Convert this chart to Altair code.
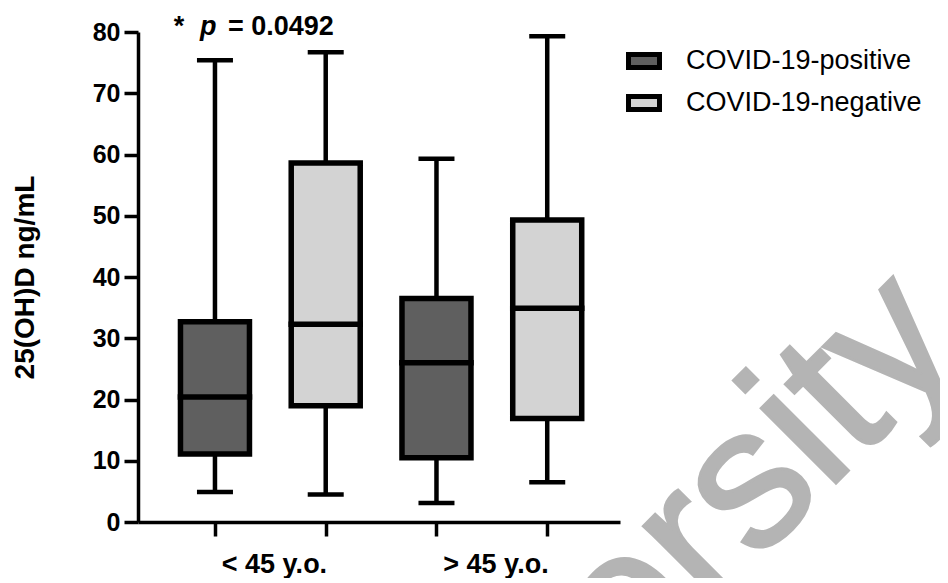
import altair as alt
import pandas as pd

# ---- data ----
groups = ["< 45 y.o.", "< 45 y.o.", "> 45 y.o.", "> 45 y.o."]
status = ["COVID-19-positive", "COVID-19-negative", "COVID-19-positive", "COVID-19-negative"]
whisker_low = [4.9, 4.5, 3.1, 6.5]
q1 = [11.1, 19.0, 10.5, 16.9]
median = [20.4, 32.3, 26.0, 34.9]
q3 = [32.7, 58.6, 36.5, 49.3]
whisker_high = [75.4, 76.7, 59.3, 79.3]

status_order = ["COVID-19-positive", "COVID-19-negative"]
fill_colors = ["#5f5f5f", "#d3d3d3"]
y_ticks = [0, 10, 20, 30, 40, 50, 60, 70, 80]
y_title = "25(OH)D ng/mL"
annotation = ["*", "p", "= 0.0492"]
watermark = ["ersity"]

FONT = "Liberation Sans"

df = pd.DataFrame({
    "group": groups,
    "status": status,
    "lo": whisker_low,
    "q1": q1,
    "med": median,
    "q3": q3,
    "hi": whisker_high,
})
df["box"] = df["group"] + " | " + df["status"]
box_order = list(df["box"])

group_names = list(dict.fromkeys(groups))
first_box = [box_order[groups.index(g)] for g in group_names]
df_labels = pd.DataFrame({"box": first_box, "label": group_names})

x_scale = alt.Scale(type="point", padding=0.676, align=0.514)
x_axis = alt.Axis(labels=False, title=None, tickSize=14, tickWidth=3.5,
                  domainWidth=3.5, domainColor="black", tickColor="black",
                  grid=False)


def X():
    return alt.X("box:N", sort=box_order, scale=x_scale, axis=x_axis)


y_scale = alt.Scale(domain=[0, 80], nice=False, zero=True)
y_axis = alt.Axis(values=y_ticks, title=y_title, grid=False,
                  tickSize=14, tickWidth=3.5, domainWidth=3.5,
                  domainColor="black", tickColor="black",
                  labelFont=FONT, labelFontWeight="bold", labelFontSize=25,
                  labelColor="black", labelPadding=4,
                  titleFont=FONT, titleFontWeight="bold", titleFontSize=28,
                  titleColor="black", titlePadding=53)


def Y(field):
    return alt.Y(f"{field}:Q", scale=y_scale, axis=y_axis, title=y_title)


base = alt.Chart(df)

wm = alt.Chart(pd.DataFrame({"t": watermark})).mark_text(
    angle=315, fontSize=200, font=FONT, color="#b4b4b4",
    stroke="#b4b4b4", strokeWidth=3,
    align="left", baseline="alphabetic"
).encode(x=alt.value(492), y=alt.value(657), text="t:N")

whisk = base.mark_rule(strokeWidth=4.5, color="black").encode(
    x=X(), y=Y("lo"), y2="hi:Q")

cap_lo = base.mark_tick(size=36, thickness=4.5, color="black", opacity=1).encode(
    x=X(), y=Y("lo"))
cap_hi = base.mark_tick(size=36, thickness=4.5, color="black", opacity=1).encode(
    x=X(), y=Y("hi"))

boxes = base.mark_bar(size=69, stroke="black", strokeWidth=5.5, opacity=1).encode(
    x=X(), y=Y("q1"), y2="q3:Q",
    color=alt.Color("status:N",
                    scale=alt.Scale(domain=status_order, range=fill_colors),
                    legend=alt.Legend(title=None, orient="none",
                                      legendX=488, legendY=11,
                                      symbolType="M-1,-0.42L1,-0.42L1,0.42L-1,0.42Z",
                                      symbolSize=961, symbolStrokeColor="black",
                                      symbolStrokeWidth=5, symbolOpacity=1,
                                      labelFont=FONT, labelFontSize=27,
                                      labelColor="black", labelOffset=24,
                                      labelLimit=0, rowPadding=7)))

med = base.mark_tick(size=74.5, thickness=5.5, color="black", opacity=1).encode(
    x=X(), y=Y("med"))

labels = alt.Chart(df_labels).mark_text(
    font=FONT, fontSize=27, fontWeight="bold", color="black",
    align="center", baseline="alphabetic", dx=59.5
).encode(x=X(), y=alt.value(541), text="label:N")

ann_df = pd.DataFrame({"box": [box_order[0]]})
ann_star = alt.Chart(ann_df).mark_text(
    text=annotation[0], font=FONT, fontSize=27, fontWeight="bold",
    color="black", align="center", baseline="alphabetic", dx=-36
).encode(x=X(), y=alt.value(3))
ann_p = alt.Chart(ann_df).mark_text(
    text=annotation[1], font=FONT, fontSize=27, fontWeight="bold",
    fontStyle="italic", color="black", align="left", baseline="alphabetic",
    dx=-15
).encode(x=X(), y=alt.value(3))
ann_v = alt.Chart(ann_df).mark_text(
    text=annotation[2], font=FONT, fontSize=27, fontWeight="bold",
    color="black", align="left", baseline="alphabetic", dx=13
).encode(x=X(), y=alt.value(3))

chart = alt.layer(
    wm, whisk, cap_lo, cap_hi, boxes, med, labels, ann_star, ann_p, ann_v
).properties(
    width=482, height=490,
    autosize=alt.AutoSizeParams(type="none"),
    padding={"left": 130, "top": 24, "right": 320, "bottom": 56},
    background="white",
).configure_view(stroke=None)

chart.save("out.html", embed_options={"renderer": "svg", "actions": False})
